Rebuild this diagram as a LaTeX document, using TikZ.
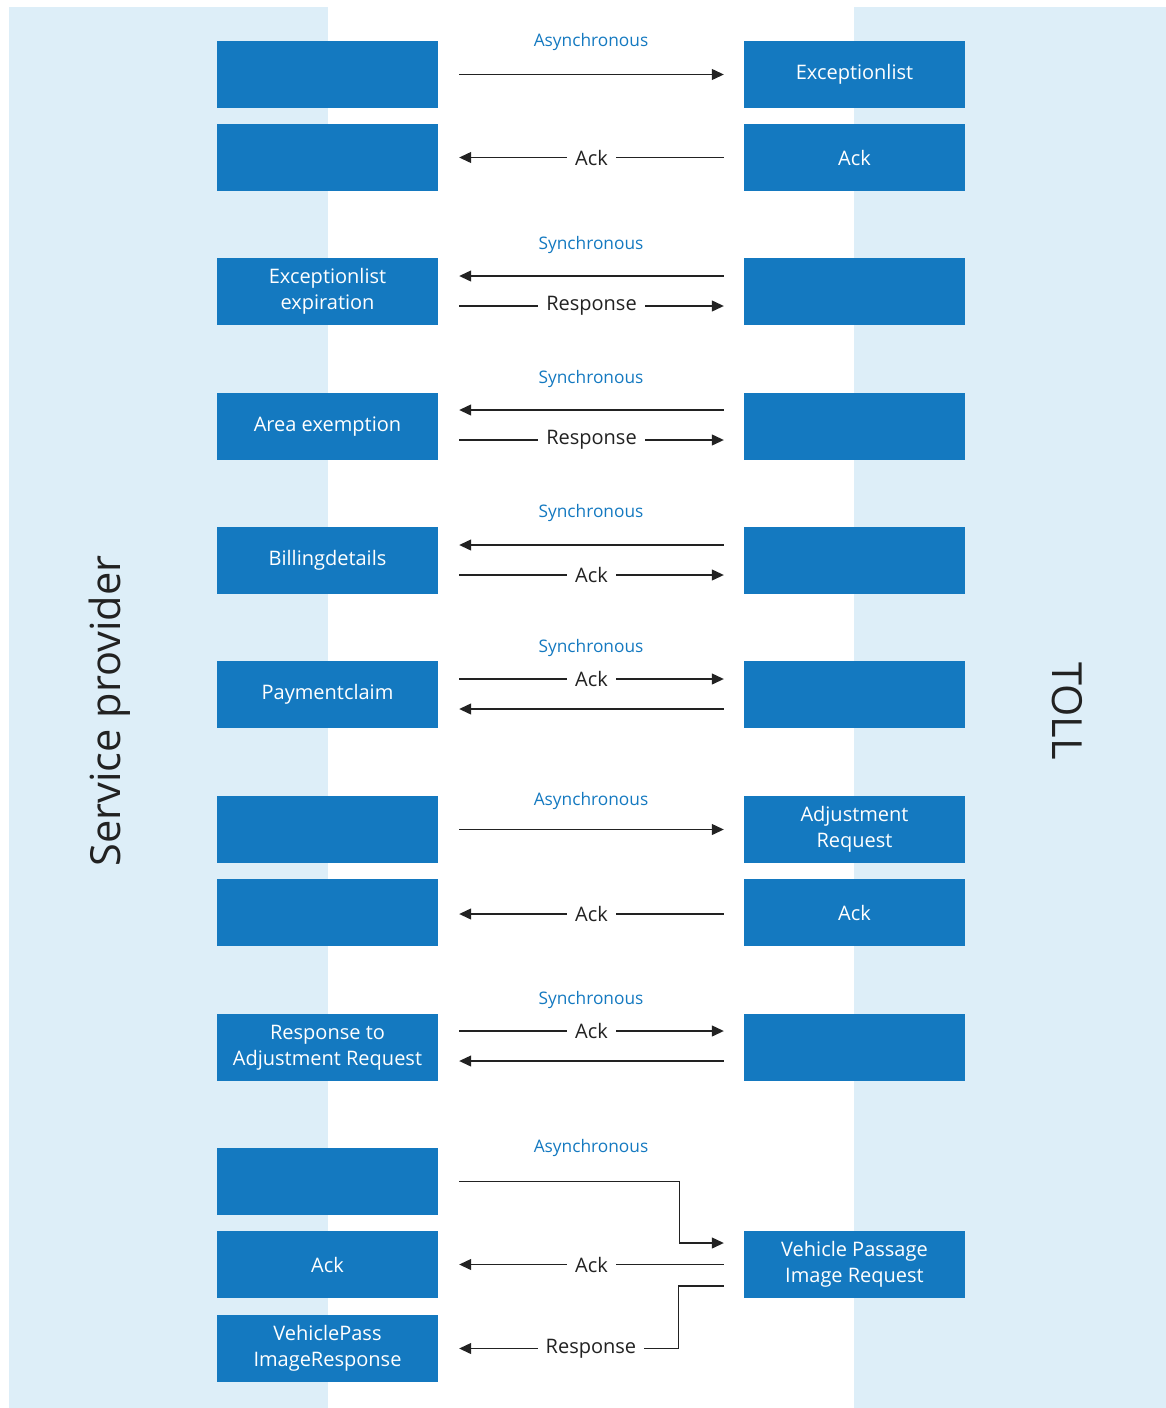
\documentclass[tikz,border=0pt]{standalone}
\usepackage{fontspec}
\setmainfont{Open Sans}
\usetikzlibrary{arrows.meta,calc}
\definecolor{boxblue}{HTML}{1479C0}
\definecolor{panel}{HTML}{DDEEF8}
\definecolor{ink}{HTML}{222222}
\begin{document}
\begin{tikzpicture}[x=1pt,y=-1pt,
  box/.style={fill=boxblue, text=white, minimum width=221pt, minimum height=67pt,
    inner sep=0pt, align=center, font=\fontsize{20}{26}\selectfont},
  tag/.style={text=boxblue, inner sep=0pt, font=\fontsize{17.3}{20}\selectfont},
  lbl/.style={fill=white, inner xsep=8pt, inner ysep=1pt, text=ink,
    font=\fontsize{20}{22}\selectfont},
  arr/.style={draw=ink, line width=1.2pt, -{Triangle[length=12pt,width=11pt]}},
  side/.style={text=ink, inner sep=0pt, font=\fontsize{41.5}{44}\selectfont}]
\useasboundingbox (0,0) rectangle (1166,1408);
\fill[panel] (9,7) rectangle (328,1408);
\fill[panel] (854,7) rectangle (1166,1408);

\node[side, rotate=90] (sp) at (110,711) {Service provider};
\node[side, rotate=-90] (toll) at (1067,711) {TOLL};

% boxes
\node[box] (L1) at (327.5,74.5) {};
\node[box] (R1) at (854.5,74.5) {Exceptionlist};
\node[box] (L2) at (327.5,157.5) {};
\node[box] (R2) at (854.5,157.5) {Ack};
\node[box] (L3) at (327.5,291.5) {Exceptionlist\\expiration};
\node[box] (R3) at (854.5,291.5) {};
\node[box] (L4) at (327.5,426.5) {Area exemption};
\node[box] (R4) at (854.5,426.5) {};
\node[box] (L5) at (327.5,560.5) {Billingdetails};
\node[box] (R5) at (854.5,560.5) {};
\node[box] (L6) at (327.5,694.5) {Paymentclaim};
\node[box] (R6) at (854.5,694.5) {};
\node[box] (L7) at (327.5,829.5) {};
\node[box] (R7) at (854.5,829.5) {Adjustment\\Request};
\node[box] (L8) at (327.5,912.5) {};
\node[box] (R8) at (854.5,912.5) {Ack};
\node[box] (L9) at (327.5,1047.5) {Response to\\Adjustment Request};
\node[box] (R9) at (854.5,1047.5) {};
\node[box] (L10) at (327.5,1181.5) {};
\node[box] (L11) at (327.5,1264.5) {Ack};
\node[box] (R11) at (854.5,1264.5) {Vehicle Passage\\Image Request};
\node[box] (L12) at (327.5,1348.5) {VehiclePass\\ImageResponse};

% tags
\node[tag] (t1) at (591,42) {Asynchronous};
\node[tag] (t3) at (591,245) {Synchronous};
\node[tag] (t4) at (591,379) {Synchronous};
\node[tag] (t5) at (591,513) {Synchronous};
\node[tag] (t6) at (591,648) {Synchronous};
\node[tag] (t7) at (591,801) {Asynchronous};
\node[tag] (t9) at (591,1000) {Synchronous};
\node[tag] (t10) at (591,1148) {Asynchronous};

% connectors
\draw[arr] ([xshift=21pt]L1.east) -- ([xshift=-20pt]R1.west);
\draw[arr] ([xshift=-20pt]R2.west) -- node[lbl]{Ack} ([xshift=21pt]L2.east);

\draw[arr] ([xshift=-20pt,yshift=15.5pt]R3.west) -- ([xshift=21pt,yshift=15.5pt]L3.east);
\draw[arr] ([xshift=21pt,yshift=-14.5pt]L3.east) -- node[lbl]{Response} ([xshift=-20pt,yshift=-14.5pt]R3.west);

\draw[arr] ([xshift=-20pt,yshift=16.5pt]R4.west) -- ([xshift=21pt,yshift=16.5pt]L4.east);
\draw[arr] ([xshift=21pt,yshift=-13.5pt]L4.east) -- node[lbl]{Response} ([xshift=-20pt,yshift=-13.5pt]R4.west);

\draw[arr] ([xshift=-20pt,yshift=15.5pt]R5.west) -- ([xshift=21pt,yshift=15.5pt]L5.east);
\draw[arr] ([xshift=21pt,yshift=-14.5pt]L5.east) -- node[lbl]{Ack} ([xshift=-20pt,yshift=-14.5pt]R5.west);

\draw[arr] ([xshift=21pt,yshift=15.5pt]L6.east) -- node[lbl]{Ack} ([xshift=-20pt,yshift=15.5pt]R6.west);
\draw[arr] ([xshift=-20pt,yshift=-14.5pt]R6.west) -- ([xshift=21pt,yshift=-14.5pt]L6.east);

\draw[arr] ([xshift=21pt]L7.east) -- ([xshift=-20pt]R7.west);
\draw[arr] ([xshift=-20pt,yshift=-1.5pt]R8.west) -- node[lbl]{Ack} ([xshift=21pt,yshift=-1.5pt]L8.east);

\draw[arr] ([xshift=21pt,yshift=16.5pt]L9.east) -- node[lbl]{Ack} ([xshift=-20pt,yshift=16.5pt]R9.west);
\draw[arr] ([xshift=-20pt,yshift=-13.5pt]R9.west) -- ([xshift=21pt,yshift=-13.5pt]L9.east);

\draw[arr] ([xshift=21pt]L10.east) -- ++(220,0) |- ([xshift=-20pt,yshift=21.5pt]R11.west);
\draw[arr] ([xshift=-20pt]R11.west) -- node[lbl]{Ack} ([xshift=21pt]L11.east);
\draw[arr] ([xshift=-20pt,yshift=-21.5pt]R11.west) -- ++(-45,0) |- node[lbl,pos=0.7]{Response} ([xshift=21pt]L12.east);
\end{tikzpicture}
\end{document}
